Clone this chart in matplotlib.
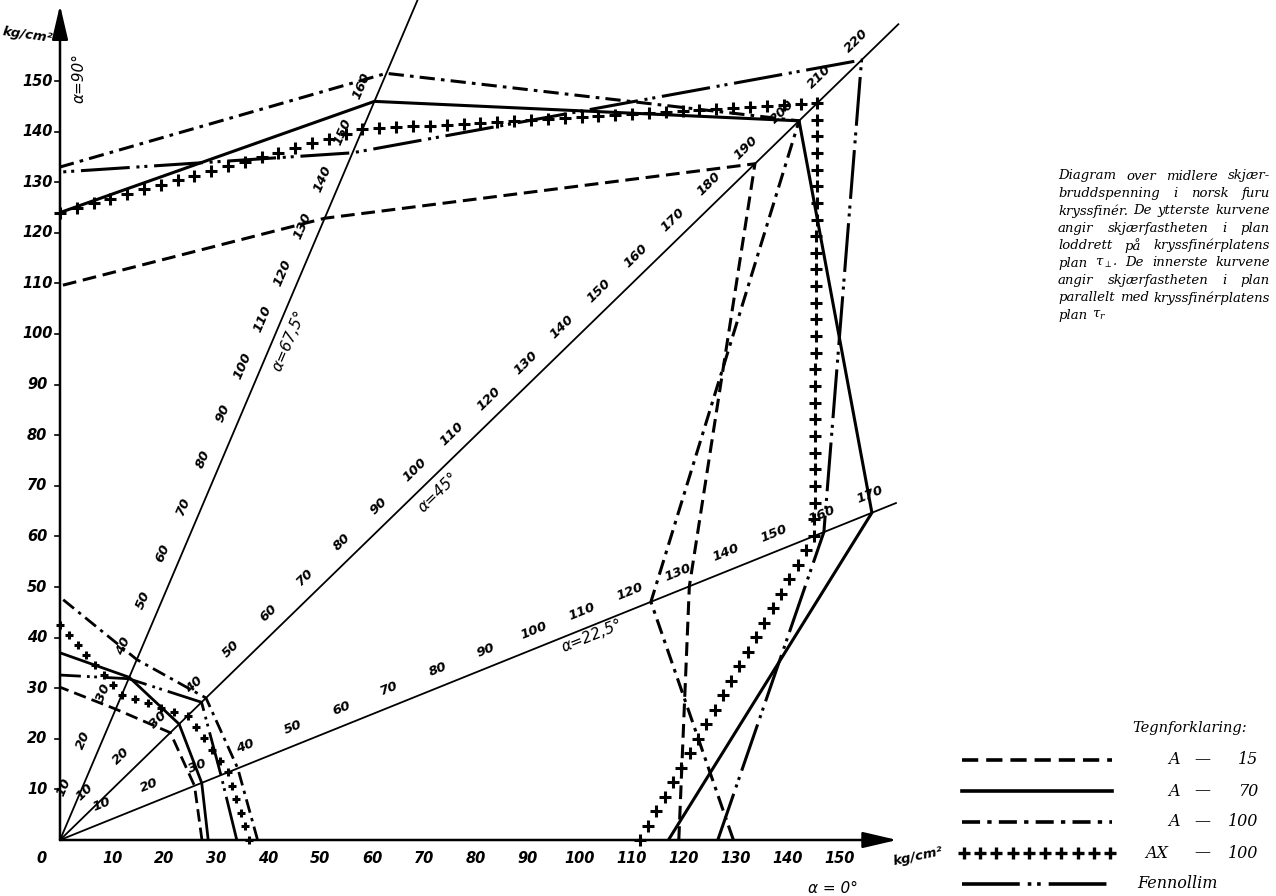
import numpy as np
import matplotlib
matplotlib.use('Agg')
import matplotlib.pyplot as plt

W, H = 1276, 896

# angle of each ray (degrees from the x-axis)
angles = [0, 22.5, 45, 67.5, 90]

# outer curves: shear strength perpendicular to the plate (kg/cm2) at each angle
outer_a15 = [119, 131, 189, 133, 109.5]
outer_a70 = [117, 169, 201, 158, 124]
outer_a100 = [129.5, 123, 201, 164, 133]
outer_ax100 = [111.5, 157, 206, 152, 124]
outer_fenn = [126.5, 159, 218, 147, 132]

# inner curves: shear strength parallel to the plate
inner_a15 = [27.3, 28, 30, 28, 30.2]
inner_a70 = [28.5, 29.5, 32.4, 34.8, 37]
inner_a100 = [38, 37, 39.7, 38.6, 48]
inner_ax100 = [36.3, 35, 34.7, 31, 42.5]
inner_fenn = [34, 33.5, 38.5, 34.5, 32.6]

# graduated rays
ray_angles = [22.5, 45, 67.5]
ray_lengths = [174, 228, 180]
ray_marks = [list(range(10, 180, 10)), list(range(10, 230, 10)), list(range(10, 170, 10))]
ray_titles = ['α=22,5°', 'α=45°', 'α=67,5°']

xticks = list(range(10, 160, 10))
yticks = list(range(10, 160, 10))

legend_names = ['A —  15', 'A —  70', 'A — 100', 'AX — 100', 'Fennollim']

note = ["Diagram over midlere skjær-",
        "bruddspenning i norsk furu",
        "kryssfinér. De ytterste kurvene",
        "angir skjærfastheten i plan",
        "loddrett på kryssfinérplatens",
        r"plan $\tau_{\perp}$. De innerste kurvene",
        "angir skjærfastheten i plan",
        "parallelt med kryssfinérplatens",
        r"plan $\tau_r$"]

plt.rcParams['mathtext.fontset'] = 'dejavuserif'

SX, SY = 5.2, 5.06  # pixels per kg/cm2

fig = plt.figure(figsize=(W / 100, H / 100), dpi=100)
ax = fig.add_axes([60 / W, 56 / H, 840 / W, 840 / H])
ax.set_xlim(0, 840 / SX)
ax.set_ylim(0, 840 / SY)
ax.axis('off')


def polar(vals, angs):
    a = np.radians(angs)
    v = np.asarray(vals, float)
    return v * np.cos(a), v * np.sin(a)


hand = dict(fontstyle='italic', fontweight='bold', family='DejaVu Sans', color='k')

# axes with arrows
arr = dict(arrowstyle='-|>,head_length=1.5,head_width=0.35', lw=1.8, color='k',
           shrinkA=0, shrinkB=0, mutation_scale=14)
ax.annotate('', xy=(161, 0), xytext=(0, 0), arrowprops=arr, annotation_clip=False)
ax.annotate('', xy=(0, 165), xytext=(0, 0), arrowprops=arr, annotation_clip=False)

for v in xticks:
    ax.text(v, -3.6, str(v), ha='center', va='center', fontsize=10.5, **hand)
ax.text(-3.5, -3.6, '0', ha='center', va='center', fontsize=10.5, **hand)
for v in yticks:
    ax.text(-4.4, v, str(v), ha='center', va='center', fontsize=10.5, **hand)
    ax.plot([-0.9, 0], [v, v], color='k', lw=1.2, clip_on=False)

ax.text(-6.2, 159, 'kg/cm²', ha='center', va='center', fontsize=9.5, rotation=-8, **hand)
ax.text(165, -3.2, 'kg/cm²', ha='center', va='center', fontsize=9.5, rotation=12, **hand)
ax.text(148.7, -9.5, 'α = 0°', ha='center', va='center', fontsize=11, fontstyle='italic', color='k')
ax.text(3.6, 150.5, 'α=90°', ha='center', va='center', fontsize=11, rotation=90,
        fontstyle='italic', color='k')

# rays with graduation numbers
for ang, L, marks, title in zip(ray_angles, ray_lengths, ray_marks, ray_titles):
    x, y = polar([0, L], [ang, ang])
    ax.plot(x, y, color='k', lw=1.3, clip_on=False)
    a = np.radians(ang)
    rot = np.degrees(np.arctan2(SY * np.sin(a), SX * np.cos(a)))
    for r in marks:
        px = r * np.cos(a) - 3.4 * np.sin(a)
        py = r * np.sin(a) + 3.4 * np.cos(a)
        ax.text(px, py, str(r), rotation=rot, rotation_mode='anchor', ha='center',
                va='center', fontsize=9.5, clip_on=False, **hand)
    rt = {22.5: 110, 45: 100, 67.5: 108}[ang]
    off = {22.5: 2.0, 45: 2.8, 67.5: 3.0}[ang]
    px = rt * np.cos(a) + off * np.sin(a)
    py = rt * np.sin(a) - off * np.cos(a)
    ax.text(px, py, title, rotation=rot, rotation_mode='anchor', ha='center', va='center',
            fontsize=11, fontstyle='italic', color='k')

# line styles
st_dash = (0, (4.5, 2.2))
st_dashdot = (0, (5, 2, 1.2, 2))
st_fenn = (0, (16, 2.2, 1, 1.6, 1, 2.2))


def cross_points(x, y, step):
    px, py = [], []
    for i in range(len(x) - 1):
        d = np.hypot(x[i + 1] - x[i], y[i + 1] - y[i])
        n = max(1, int(round(d / step)))
        t = np.arange(n) / n
        px.extend(x[i] + t * (x[i + 1] - x[i]))
        py.extend(y[i] + t * (y[i + 1] - y[i]))
    px.append(x[-1])
    py.append(y[-1])
    return px, py


def draw(vals, style, lw=2.2, ms=9, step=3.3):
    x, y = polar(vals, angles)
    if style == 'cross':
        px, py = cross_points(x, y, step)
        ax.plot(px, py, linestyle='none', marker='+', ms=ms, mew=2.2, color='k',
                clip_on=False, zorder=4)
    else:
        ax.plot(x, y, color='k', lw=lw, linestyle=style, dash_capstyle='butt',
                solid_capstyle='butt', clip_on=False, zorder=3)


draw(outer_a15, st_dash)
draw(outer_a70, '-')
draw(outer_a100, st_dashdot)
draw(outer_ax100, 'cross')
draw(outer_fenn, st_fenn)

draw(inner_a15, st_dash, lw=2.0)
draw(inner_a70, '-', lw=2.0)
draw(inner_a100, st_dashdot, lw=2.0)
draw(inner_ax100, 'cross', ms=6, step=2.6)
draw(inner_fenn, st_fenn, lw=2.0)

# overlay in pixel units for the note and the legend
ov = fig.add_axes([0, 0, 1, 1])
ov.set_xlim(0, W)
ov.set_ylim(H, 0)
ov.axis('off')
ov.patch.set_alpha(0)

serif = dict(family=['DejaVu Serif', 'DejaVu Sans'], fontstyle='italic', color='k')

fig.canvas.draw()
rend = fig.canvas.get_renderer()
x0, x1 = 1058, 1270
for i, line in enumerate(note):
    y = 176 + i * 17.4
    words = line.split(' ')
    ts = [ov.text(0, y, w, ha='left', va='center', fontsize=9.5, **serif) for w in words]
    widths = [t.get_window_extent(rend).width for t in ts]
    if i == len(note) - 1 or len(words) == 1:
        gap = 5
    else:
        gap = (x1 - x0 - sum(widths)) / (len(words) - 1)
    x = x0
    for t, w in zip(ts, widths):
        t.set_x(x)
        x += w + gap

ov.text(1190, 728, 'Tegnforklaring:', ha='center', va='center', fontsize=10.5, **serif)

leg_styles = [st_dash, '-', st_dashdot, 'cross', st_fenn]
leg_y = [760, 791, 822, 853, 884]
for name, s, y in zip(legend_names, leg_styles, leg_y):
    if s == 'cross':
        ov.plot(np.linspace(964, 1110, 10), [y] * 10, linestyle='none', marker='+', ms=9,
                mew=2.4, color='k')
    else:
        ov.plot([962, 1112], [y, y], color='k', lw=2.6, linestyle=s, dash_capstyle='butt')
    if name == 'Fennollim':
        ov.text(1137, y, name, ha='left', va='center', fontsize=11.5, **serif)
    else:
        left, num = name.split('—')
        ov.text(1180 if left.strip() == 'A' else 1168, y, left.strip(), ha='right',
                va='center', fontsize=11.5, **serif)
        ov.text(1202, y, '—', ha='center', va='center', fontsize=11.5, **serif)
        ov.text(1258, y, num.strip(), ha='right', va='center', fontsize=11.5, **serif)

fig.savefig('out.png', dpi=100)
